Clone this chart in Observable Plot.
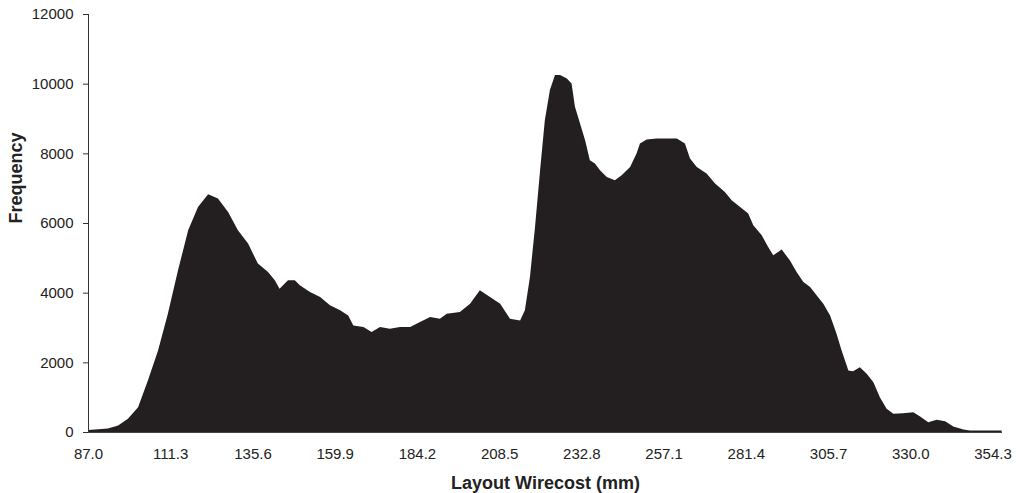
<!DOCTYPE html>
<html>
<head>
<meta charset="utf-8">
<script src="https://cdn.jsdelivr.net/npm/d3@7"></script>
<script src="https://cdn.jsdelivr.net/npm/@observablehq/plot@0.6"></script>
<style>
  html, body { margin: 0; padding: 0; background: #fff; }
  #chart svg { display: block; }
</style>
</head>
<body>
<div id="chart"></div>
<script>
const wirecost = [87.0, 92.9, 95.9, 98.8, 101.8, 104.7, 107.7, 110.6, 113.6, 116.6, 119.5, 122.5, 125.4, 128.4, 131.3, 134.3, 137.2, 140.2, 142.2, 143.6, 146.1, 148.1,
  149.6, 152.6, 155.6, 158.5, 161.5, 163.9, 165.4, 168.4, 170.8, 173.3, 176.2, 179.2, 182.2, 185.1, 188.1, 191.0, 193.0, 196.9, 199.9, 202.8, 205.8, 208.8, 211.7, 214.7, 216.1, 217.6, 219.1, 220.6,
  222.0, 223.5, 225.0, 226.5, 228.5, 229.9, 230.9, 232.4, 233.9, 235.3, 236.8, 238.3, 240.3, 242.7, 244.7, 247.2, 249.1, 250.1, 252.1, 255.1, 258.0, 261.0, 263.4, 264.9, 266.9, 269.8, 272.3, 275.2, 277.2, 279.7, 282.1, 283.6, 286.1, 288.0, 289.5, 292.0,
  294.4, 296.4, 298.4, 300.4, 302.3, 304.3, 306.3, 308.2, 309.7, 311.7, 313.1, 315.1, 317.1, 319.1, 321.0, 323.0, 325.0, 327.9, 330.9, 332.9, 335.3, 337.8, 340.3, 342.7, 345.7, 347.6, 357.0];

const frequency = [60, 100, 187, 379, 713, 1480, 2342, 3397, 4641, 5791, 6461, 6826, 6702, 6317, 5791, 5409, 4834, 4593, 4354, 4115, 4354, 4354,
  4210, 4018, 3874, 3636, 3492, 3348, 3061, 3012, 2868, 3012, 2965, 3012, 3012, 3156, 3300, 3252, 3397, 3444, 3684, 4066, 3874, 3684, 3252, 3204, 3492, 4449, 5886, 7515,
  8953, 9815, 10246, 10246, 10151, 10007, 9335, 8857, 8378, 7803, 7708, 7515, 7323, 7228, 7372, 7611, 7995, 8283, 8398, 8426, 8426, 8426, 8283, 7852, 7611, 7420, 7133, 6892, 6653, 6461, 6271, 5935, 5648, 5311, 5073, 5236,
  4929, 4593, 4306, 4162, 3923, 3684, 3348, 2822, 2342, 1767, 1747, 1862, 1673, 1431, 1000, 667, 523, 540, 569, 445, 282, 351, 310, 158, 72, 43, 43];

const xTicks = [87.0, 111.3, 135.6, 159.9, 184.2, 208.5, 232.8, 257.1, 281.4, 305.7, 330.0, 354.3];
const yTicks = [0, 2000, 4000, 6000, 8000, 10000, 12000];

const xTitle = "Layout Wirecost (mm)";
const yTitle = "Frequency";

const data = wirecost.map((w, i) => ({ w, f: frequency[i] }));

const chart = Plot.plot({
  width: 1021,
  height: 493,
  marginLeft: 88,
  marginRight: 19,
  marginTop: 14,
  marginBottom: 61,
  style: { fontFamily: "'Liberation Sans', Arial, sans-serif", fontSize: "15px", color: "#222", background: "#fff" },
  x: { domain: [87, 357.1] },
  y: { domain: [0, 12000] },
  marks: [
    Plot.areaY(data, { x: "w", y: "f", fill: "#231f20", curve: "linear" }),
    Plot.ruleY([0], { x1: 86.7, x2: 357.1, stroke: "#444", strokeWidth: 1 }),
    Plot.ruleX([87], { y1: 0, y2: 12000, stroke: "#333", strokeWidth: 1 }),
    Plot.axisY({ ticks: yTicks, tickFormat: d => String(d), tickSize: 5, tickPadding: 10, label: null, fontSize: 15, stroke: "#333" }),
    Plot.axisX({ ticks: xTicks, tickFormat: d => d.toFixed(1), tickSize: 0, tickPadding: 16, label: null, fontSize: 15 }),
    Plot.text([yTitle], { frameAnchor: "left", rotate: -90, dx: -72, text: d => d, fontSize: 18, fontWeight: "bold", lineAnchor: "middle", fill: "#222" }),
    Plot.text([xTitle], { frameAnchor: "bottom", dy: 51, text: d => d, fontSize: 18, fontWeight: "bold", lineAnchor: "middle", fill: "#222" })
  ]
});
document.getElementById("chart").appendChild(chart);
</script>
</body>
</html>
